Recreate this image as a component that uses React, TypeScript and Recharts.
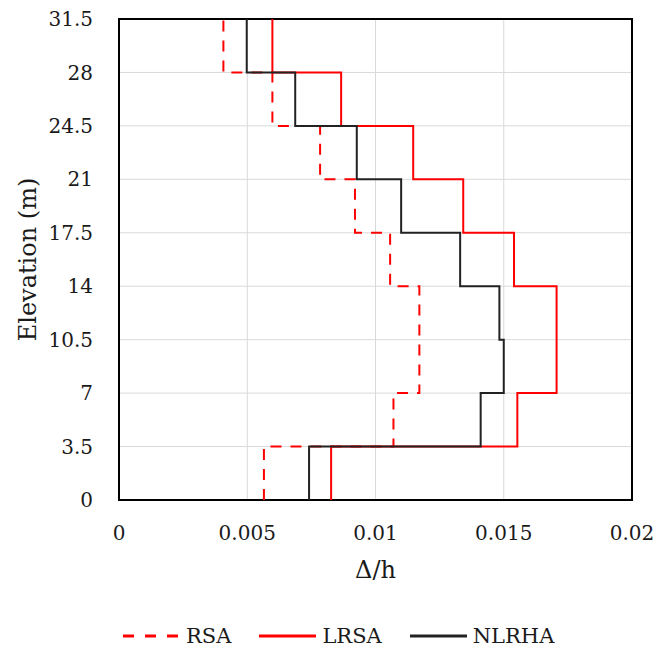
import React from 'react';
import { LineChart, Line, XAxis, YAxis, CartesianGrid, ReferenceArea, Label } from 'recharts';

const elevations = [0, 3.5, 7, 10.5, 14, 17.5, 21, 24.5, 28, 31.5];
const rsaDrift = [0.00565, 0.0107, 0.01171, 0.01171, 0.01057, 0.0092, 0.00784, 0.00598, 0.00407];
const lrsaDrift = [0.00827, 0.01553, 0.01706, 0.01706, 0.0154, 0.01342, 0.01147, 0.00866, 0.00598];
const nlrhaDrift = [0.00741, 0.0141, 0.015, 0.01483, 0.0133, 0.011, 0.00927, 0.00687, 0.00498];
const xTicks = [0, 0.005, 0.01, 0.015, 0.02];
const yTicks = [0, 3.5, 7, 10.5, 14, 17.5, 21, 24.5, 28, 31.5];

const stepProfile = (drifts: number[]) => {
  const pts: { x: number; y: number }[] = [];
  drifts.forEach((d, i) => {
    pts.push({ x: d, y: elevations[i] });
    pts.push({ x: d, y: elevations[i + 1] });
  });
  return pts;
};

const rsaData = stepProfile(rsaDrift);
const lrsaData = stepProfile(lrsaDrift);
const nlrhaData = stepProfile(nlrhaDrift);

const FONT = '"DejaVu Serif", serif';
const tickStyle = { fontFamily: FONT, fontSize: 20, fill: '#1a1a1a' };

const fmtX = (v: number) => (v === 0 ? '0' : String(v));

const legendItems = [
  { name: 'RSA', color: '#ff0000', dash: '11 11' },
  { name: 'LRSA', color: '#ff0000', dash: undefined },
  { name: 'NLRHA', color: '#222222', dash: undefined },
];

export default function App() {
  return (
    <div style={{ position: 'absolute', left: 0, top: 0, width: 659, height: 655, background: '#fff' }}>
      <LineChart width={659} height={655} margin={{ top: 19, right: 27, bottom: 0, left: 0 }}>
        <CartesianGrid stroke="#d9d9d9" strokeWidth={1} />
        <XAxis
          type="number"
          dataKey="x"
          domain={[0, 0.02]}
          ticks={xTicks}
          tickFormatter={fmtX}
          height={155}
          tickLine={false}
          tickSize={0}
          tickMargin={26}
          axisLine={false}
          tick={tickStyle}
          allowDataOverflow
        >
          <Label
            value="Δ/h"
            position="insideTop"
            offset={61}
            style={{ fontFamily: FONT, fontSize: 24, fill: '#1a1a1a' }}
          />
        </XAxis>
        <YAxis
          type="number"
          dataKey="y"
          domain={[0, 31.5]}
          ticks={yTicks}
          width={119}
          tickLine={false}
          tickSize={0}
          tickMargin={26}
          axisLine={false}
          tick={tickStyle}
          allowDataOverflow
        >
          <Label
            value="Elevation (m)"
            angle={-90}
            position="insideLeft"
            offset={27}
            style={{ fontFamily: FONT, fontSize: 24, fill: '#1a1a1a', textAnchor: 'middle' }}
          />
        </YAxis>
        <Line
          data={rsaData}
          dataKey="y"
          name="RSA"
          stroke="#ff0000"
          strokeWidth={2}
          strokeDasharray="11 9"
          dot={false}
          activeDot={false}
          isAnimationActive={false}
          type="linear"
        />
        <Line
          data={lrsaData}
          dataKey="y"
          name="LRSA"
          stroke="#ff0000"
          strokeWidth={2}
          dot={false}
          activeDot={false}
          isAnimationActive={false}
          type="linear"
        />
        <Line
          data={nlrhaData}
          dataKey="y"
          name="NLRHA"
          stroke="#222222"
          strokeWidth={2}
          dot={false}
          activeDot={false}
          isAnimationActive={false}
          type="linear"
        />
        <ReferenceArea x1={0} x2={0.02} y1={0} y2={31.5} fill="none" stroke="#000" strokeWidth={2} ifOverflow="visible" />
      </LineChart>
      <div
        style={{
          position: 'absolute',
          left: 123,
          top: 624,
          display: 'flex',
          alignItems: 'center',
          fontFamily: FONT,
          fontSize: 21,
          color: '#1a1a1a',
          whiteSpace: 'nowrap',
        }}
      >
        {legendItems.map((it, i) => (
          <div key={it.name} style={{ display: 'flex', alignItems: 'center', marginRight: i < 2 ? 28 : 0 }}>
            <svg width={57} height={6} style={{ marginRight: 6 }}>
              <line x1={0} y1={3} x2={57} y2={3} stroke={it.color} strokeWidth={3} strokeDasharray={it.dash} />
            </svg>
            <span>{it.name}</span>
          </div>
        ))}
      </div>
    </div>
  );
}
